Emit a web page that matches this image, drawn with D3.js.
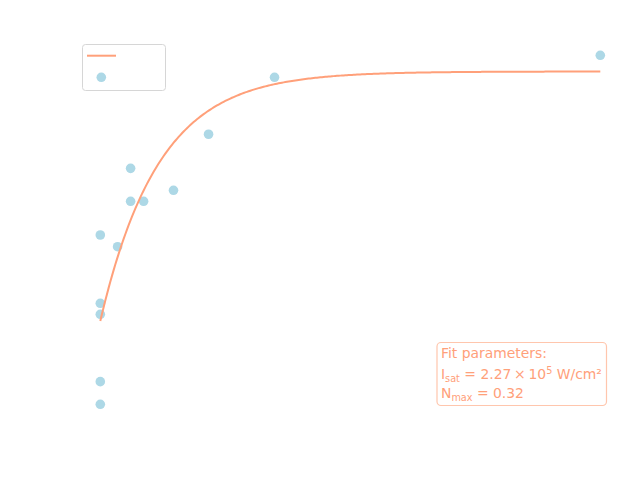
<!DOCTYPE html>
<html>
<head>
<meta charset="utf-8">
<script src="https://cdn.jsdelivr.net/npm/d3@7"></script>
<style>
  body { margin: 0; background: #fff; }
  svg { display: block; font-family: "DejaVu Sans", sans-serif; }
</style>
</head>
<body>
<svg id="chart" width="640" height="480"></svg>
<script>
// Intensity (W/cm²) of each measurement
const intensity = [0, 0, 0, 0, 0, 0, 6.71e4, 1.176e5, 1.176e5, 1.68e5, 2.84e5, 4.20e5, 6.76e5, 1.94e6];
// Measured normalized population
const population = [0.3126, 0.1103, 0.0227, 0.0086, -0.0778, -0.1068, 0.0953, 0.1958, 0.1535, 0.1535, 0.1676, 0.2395, 0.3126, 0.3408];
// Fit parameters (as printed in the annotation)
const Isat = 2.27e5;
const Nmax = 0.32;
const legendLabels = ["Fit", "Data"];

const svg = d3.select("#chart");
const W = 640, H = 480;
svg.append("rect").attr("width", W).attr("height", H).attr("fill", "#fff");

const xMax = d3.max(intensity);
const x = d3.scaleLinear().domain([0, xMax]).range([100.3, 600.3]);
const y = d3.scaleLinear().domain([0, Nmax]).range([321, 71.5]);

// hidden (white) axes as in original
const gx = svg.append("g").attr("transform", "translate(0,424)")
  .call(d3.axisBottom(x).ticks(5));
gx.selectAll("line,path").attr("stroke", "#fff");
gx.selectAll("text").attr("fill", "#fff");
const gy = svg.append("g").attr("transform", "translate(72,0)")
  .call(d3.axisLeft(y).ticks(5));
gy.selectAll("line,path").attr("stroke", "#fff");
gy.selectAll("text").attr("fill", "#fff");

// Points
svg.append("g").selectAll("circle")
  .data(intensity.map((v, i) => [v, population[i]]))
  .join("circle")
  .attr("cx", d => x(d[0]))
  .attr("cy", d => y(d[1]))
  .attr("r", 4.8)
  .attr("fill", "#add8e6");

// Fit curve N = Nmax (1 - exp(-I/Isat))
const fitPts = d3.range(0, 301).map(i => {
  const I = xMax * i / 300;
  return [I, Nmax * (1 - Math.exp(-I / Isat))];
});
svg.append("path")
  .datum(fitPts)
  .attr("fill", "none")
  .attr("stroke", "#ffa07a")
  .attr("stroke-width", 2)
  .attr("d", d3.line().x(d => x(d[0])).y(d => y(d[1])));

// Legend
const lg = svg.append("g");
lg.append("rect").attr("x", 82.5).attr("y", 44.5).attr("width", 83).attr("height", 46)
  .attr("rx", 3).attr("fill", "#fff").attr("stroke", "#d6d6d6").attr("stroke-width", 1);
lg.append("line").attr("x1", 87).attr("x2", 116).attr("y1", 55.7).attr("y2", 55.7)
  .attr("stroke", "#ffa07a").attr("stroke-width", 2);
lg.append("circle").attr("cx", 101.3).attr("cy", 77.3).attr("r", 4.8).attr("fill", "#add8e6");
lg.selectAll("text.lab").data(legendLabels).join("text")
  .attr("class", "lab")
  .attr("x", 124).attr("y", (d, i) => 60 + i * 22)
  .attr("font-size", 13).attr("fill", "#fff").text(d => d);

// Annotation box
const ab = svg.append("g");
ab.append("rect").attr("x", 437).attr("y", 342.5).attr("width", 169.5).attr("height", 63)
  .attr("rx", 4).attr("fill", "#fff").attr("stroke", "#ffc6ad").attr("stroke-width", 1.2);
const fc = "#ffa07a", fs = 13.9;
ab.append("text").attr("x", 441).attr("y", 357.7).attr("font-size", fs).attr("fill", fc)
  .text("Fit parameters:");
const t2 = ab.append("text").attr("x", 441).attr("y", 378.5).attr("font-size", fs).attr("fill", fc);
t2.append("tspan").text("I");
t2.append("tspan").attr("font-size", 9.7).attr("dy", 3).text("sat");
t2.append("tspan").attr("dy", -3).text(" = " + (Isat / 1e5).toFixed(2) + "\u2009×\u200910");
t2.append("tspan").attr("font-size", 9.7).attr("dy", -5).text("5");
t2.append("tspan").attr("dy", 5).text(" W/cm²");
const t3 = ab.append("text").attr("x", 441).attr("y", 398.3).attr("font-size", fs).attr("fill", fc);
t3.append("tspan").text("N");
t3.append("tspan").attr("font-size", 9.7).attr("dy", 3).text("max");
t3.append("tspan").attr("dy", -3).text(" = " + Nmax.toFixed(2));
</script>
</body>
</html>
